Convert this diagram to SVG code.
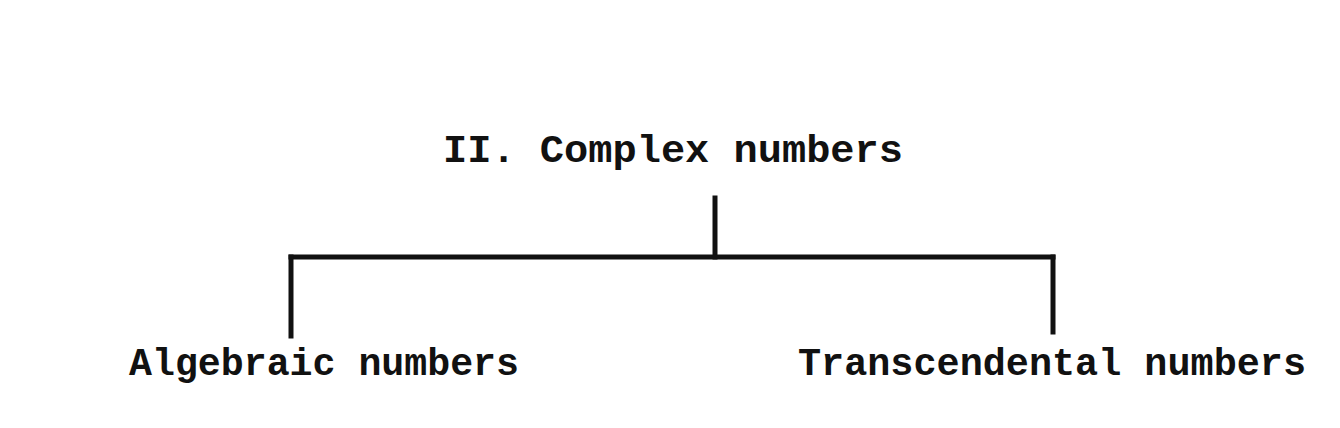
<svg xmlns="http://www.w3.org/2000/svg" width="1340" height="428" viewBox="0 0 1340 428">
  <style>
    .lbl { font-family: "Liberation Mono", "Courier New", monospace; font-size: 39px; font-weight: bold; fill: #111; }
    .ln { stroke: #111; stroke-width: 5; stroke-linecap: square; fill: none; }
  </style>
  <rect width="1340" height="428" fill="#ffffff"/>
  <g id="connectors">
    <line class="ln" x1="715" y1="198" x2="715" y2="257"/>
    <line class="ln" x1="291" y1="257" x2="1053" y2="257"/>
    <line class="ln" x1="291" y1="257" x2="291" y2="336"/>
    <line class="ln" x1="1053" y1="257" x2="1053" y2="332"/>
  </g>
  <g id="node-complex">
    <text class="lbl" x="443" y="162" textLength="460" lengthAdjust="spacingAndGlyphs">II. Complex numbers</text>
  </g>
  <g id="node-algebraic">
    <text class="lbl" x="129" y="375" textLength="390" lengthAdjust="spacingAndGlyphs">Algebraic numbers</text>
  </g>
  <g id="node-transcendental">
    <text class="lbl" x="798" y="375" textLength="508" lengthAdjust="spacingAndGlyphs">Transcendental numbers</text>
  </g>
</svg>
